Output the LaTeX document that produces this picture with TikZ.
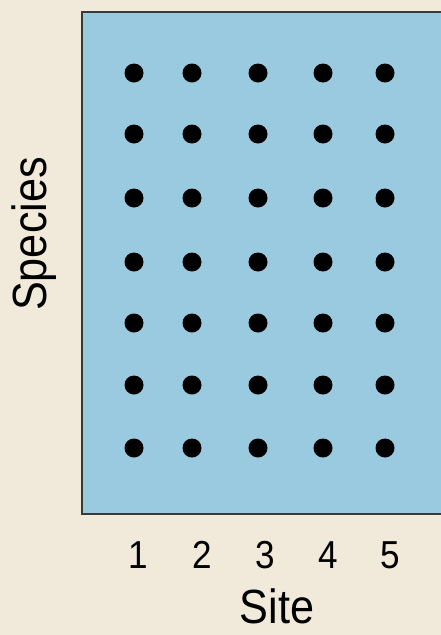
\documentclass[tikz,border=0pt]{standalone}
\usepackage{fontspec}
\setmainfont{Liberation Sans}[FakeStretch=0.9]
\usepackage{xcolor}
\definecolor{paper}{HTML}{F1E9D9}
\definecolor{plotblue}{HTML}{99CAE0}
\definecolor{frame}{HTML}{3A3A3A}
\tikzset{
  plotbox/.style = {draw=frame, fill=plotblue, line width=2pt},
  spot/.style    = {circle, fill=black, inner sep=0pt, minimum size=19pt},
  tick/.style    = {font=\fontsize{39}{39}\selectfont, inner sep=0pt},
  axis/.style    = {font=\fontsize{48}{48}\selectfont, inner sep=0pt},
}

\begin{document}
\begin{tikzpicture}[x=1pt, y=-1pt]
  % page and panel
  \fill[paper] (0,0) rectangle (441,635);
  \useasboundingbox (0,0) rectangle (441,635);
  \draw[plotbox] (82,12) rectangle (446,514);
  % species x site grid
  \foreach \sx [count=\i] in {134,192,258,323,385} {
    \foreach \sy [count=\j] in {73,134,198,262,323,385,448}
      \node[spot] (d-\i-\j) at (\sx,\sy) {};
  }
  % site labels
  \foreach \lx [count=\i] in {138,202,265,328,390}
    \node[tick] (s\i) at (\lx,555) {\i};
  \node[axis] (site) at (277,606) {Site};
  \node[axis, rotate=90] (species) at (34,234) {Species};
\end{tikzpicture}
\end{document}
